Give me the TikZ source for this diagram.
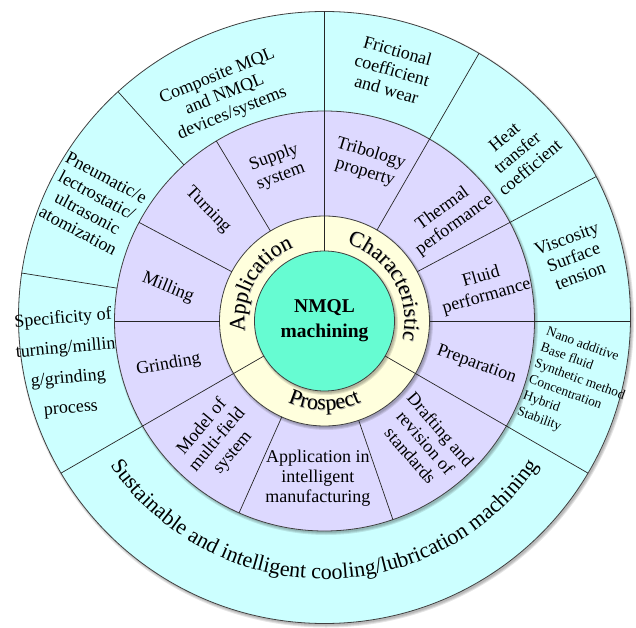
\documentclass[tikz,border=0pt]{standalone}
\usepackage{fontspec}
\setmainfont{Liberation Serif}
\usetikzlibrary{decorations.text}

\definecolor{outercyan}{RGB}{204,255,255}
\definecolor{midviolet}{RGB}{221,217,255}
\definecolor{innercream}{RGB}{255,255,221}
\definecolor{coreteal}{RGB}{102,252,210}

\newcommand{\ringfont}{\fontsize{22}{24}\selectfont}

\tikzset{
  ring/.style={draw=black!75, line width=0.8pt},
  divider/.style={draw=black!85, line width=0.7pt},
  lbl/.style={align=center, inner sep=0pt, font=\fontsize{18}{20}\selectfont},
  smalllbl/.style={align=left, inner sep=0pt, font=\fontsize{13.5}{17}\selectfont},
  arctitle/.style={decorate, decoration={text along path, text align=center, text={|\ringfont|#1}}},
  arcshade/.style={decorate, decoration={text along path, text align=center, text={|\color{black!35}\ringfont|#1}}},
}

\begin{document}
\begin{tikzpicture}[x=1pt,y=1pt]
    \useasboundingbox (0,0) rectangle (636,627);

    % Define points
    \coordinate (O) at (324.5,306); % Center of the inner rings
    \coordinate (OC) at (324.5,309.5); % Center of the outer ring

    % Filled rings with a soft shadow, outside in
    \foreach \c/\r/\col in {OC/306/outercyan, O/210/midviolet, O/105/innercream, O/70/coreteal} {
        \foreach \k in {0,1,2}
            \fill[black, opacity=0.1] ([shift={(1.5,-2)}]\c) circle[radius=\r+\k];
        \draw[ring, fill=\col] (\c) circle[radius=\r];
    }

    \begin{scope}
        \clip (OC) circle[radius=306];
        % Dividers across every ring
        \foreach \a in {90,210,330}
            \draw[divider] (O) ++(\a:70) -- ++(\a:260);
        % Dividers across the violet and cyan rings
        \foreach \a in {0,28,60}
            \draw[divider] (O) ++(\a:105) -- ++(\a:225);
        % Dividers in the cyan ring only
        \foreach \a in {132,171}
            \draw[divider] (O) ++(\a:210) -- ++(\a:120);
    \end{scope}
    % Dividers in the violet ring only
    \foreach \a in {121,152,180,246,289}
        \draw[divider] (O) ++(\a:105) -- ++(\a:105);

    % Centre
    \node[align=center, font=\bfseries\fontsize{19.5}{25}\selectfont] (core) at (O) {NMQL\\machining};

    % Curved titles in the cream ring (shaded copy first)
    \path[arcshade=Application] ([shift={(0.8,-0.8)}]O) ++(210:80) arc[start angle=210, end angle=90, radius=80];
    \path[arctitle=Application] (O) ++(210:80) arc[start angle=210, end angle=90, radius=80];
    \path[arcshade=Characteristic] ([shift={(0.8,-0.8)}]O) ++(90:80) arc[start angle=90, end angle=-30, radius=80];
    \path[arctitle=Characteristic] (O) ++(90:80) arc[start angle=90, end angle=-30, radius=80];
    \path[arcshade=Prospect] ([shift={(0.8,-0.8)}]O) ++(210:89) arc[start angle=210, end angle=330, radius=89];
    \path[arctitle=Prospect] (O) ++(210:89) arc[start angle=210, end angle=330, radius=89];

    % Violet ring
    \node[lbl, rotate=20] (supply) at ([shift={(107:161)}]O) {Supply\\system};
    \node[lbl, rotate=-46] (turning) at ([shift={(136.4:161)}]O) {Turning};
    \node[lbl, rotate=-22] (milling) at ([shift={(168:160)}]O) {Milling};
    \node[lbl, rotate=10] (grinding) at ([shift={(195.7:162)}]O) {Grinding};
    \node[lbl, rotate=50] (model) at ([shift={(228:160)}]O) {Model of\\multi-field\\system};
    \node[lbl] (intelligent) at ([shift={(267.6:157)}]O) {Application in\\intelligent\\manufacturing};
    \node[lbl, rotate=-49] (drafting) at ([shift={(-50.2:158)}]O) {Drafting and\\revision of\\standards};
    \node[lbl, rotate=-20] (preparation) at ([shift={(-16:158)}]O) {Preparation};
    \node[lbl, rotate=16] (fluid) at ([shift={(12:163)}]O) {Fluid\\performance};
    \node[lbl, rotate=36] (thermal) at ([shift={(40:162)}]O) {Thermal\\performance};
    \node[lbl, rotate=-17] (tribology) at ([shift={(74.6:164)}]O) {Tribology\\property};

    % Cyan ring
    \node[lbl, rotate=22] (devices) at ([shift={(113.8:247)}]O) {Composite MQL\\and NMQL\\devices/systems};
    \node[lbl, rotate=-28] (atomization) at ([shift={(153.3:260)}]O) {Pneumatic/e\\lectrostatic/\\ultrasonic\\atomization};
    \node[lbl, rotate=5, font=\fontsize{18}{30}\selectfont] (specificity) at ([shift={(189.4:261)}]O) {Specificity of\\turning/millin\\g/grinding\\process};
    \node[lbl, rotate=-16] (friction) at ([shift={(74.9:260)}]O) {Frictional\\coefficient\\and wear};
    \node[lbl, rotate=40] (heat) at ([shift={(41.2:256)}]O) {Heat\\transfer\\coefficient};
    \node[lbl, rotate=20] (viscosity) at ([shift={(14.4:257)}]O) {Viscosity\\Surface\\tension};
    \node[smalllbl, rotate=-20] (nano) at ([shift={(-14.9:261)}]O) {Nano additive\\Base fluid\\Synthetic method\\Concentration\\Hybrid\\Stability};

    % Curved title along the bottom of the cyan ring
    \path[decorate, decoration={text along path, text align=center,
        text={|\ringfont|Sustainable and intelligent cooling/lubrication machining}}]
        (O) ++(210:258) arc[start angle=210, end angle=330, radius=258];

\end{tikzpicture}
\end{document}
